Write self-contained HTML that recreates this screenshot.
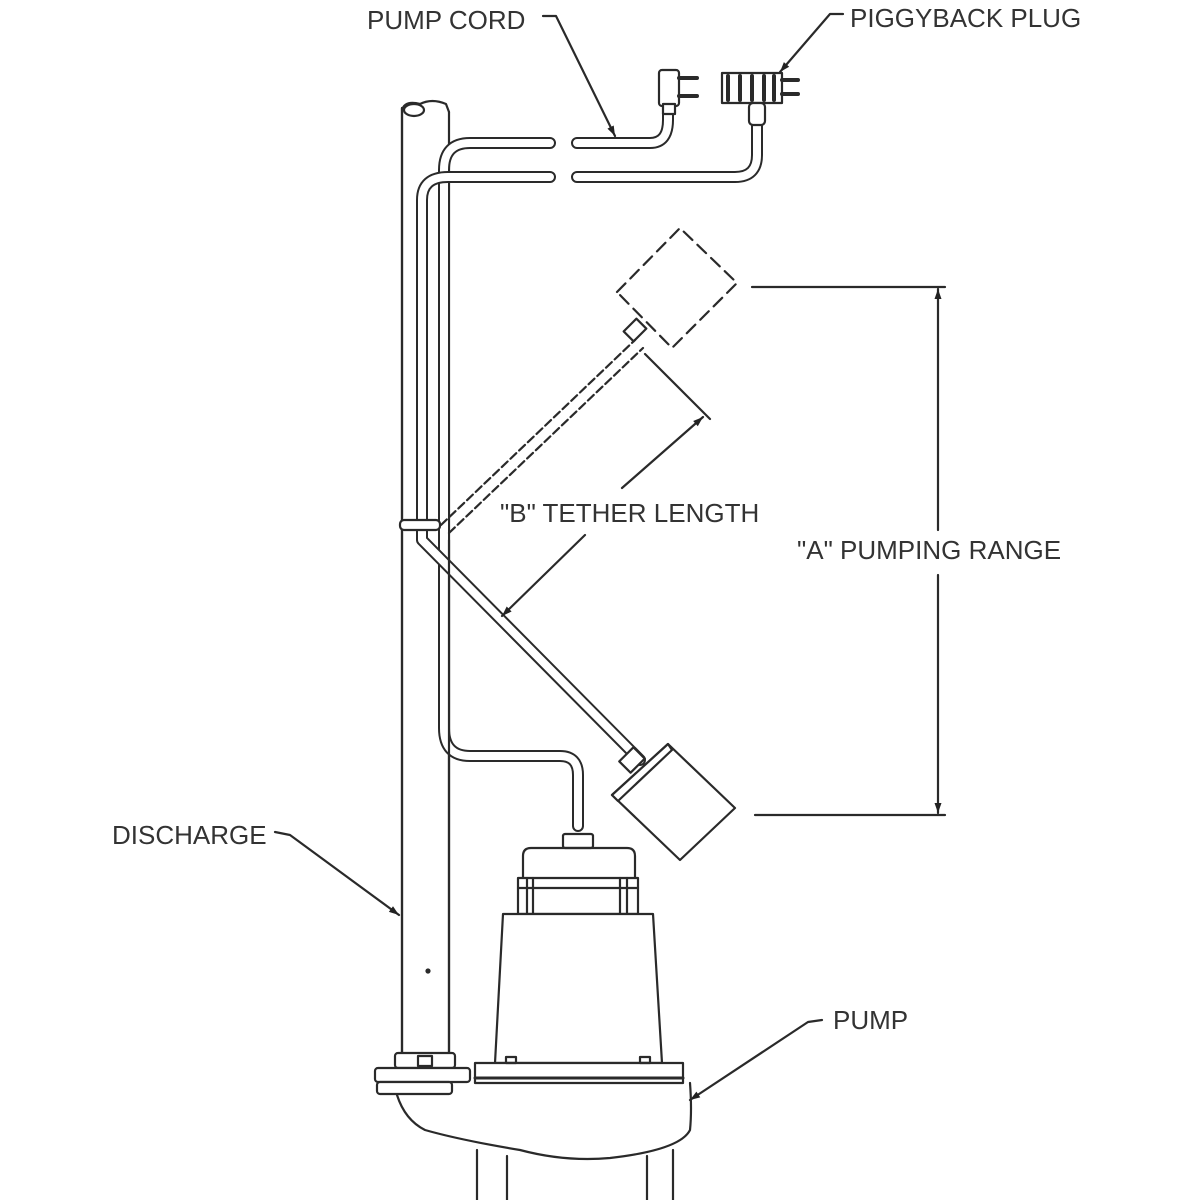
<!DOCTYPE html>
<html><head><meta charset="utf-8"><style>
html,body{margin:0;padding:0;background:#fff;}
svg{display:block}
text{font-family:"Liberation Sans",sans-serif;font-size:26px;fill:#333;letter-spacing:0px}
</style></head><body>
<svg width="1200" height="1200" viewBox="0 0 1200 1200" xmlns="http://www.w3.org/2000/svg">
<defs>
<marker id="ahl" viewBox="0 0 10 10" refX="10" refY="5" markerWidth="24" markerHeight="10" orient="auto-start-reverse" markerUnits="userSpaceOnUse"><path d="M0,1.5 L10,5 L0,8.5 z" fill="#222"/></marker>
</defs>
<g fill="none" stroke="#2a2a2a" stroke-width="2.2" stroke-linejoin="round" stroke-linecap="round">
<!-- discharge pipe -->
<line x1="402" y1="108" x2="402" y2="1055"/>
<line x1="449" y1="112" x2="449" y2="1055"/>
<path d="M402,110 Q405,100 420,104 Q432,98 446,104 L449,112"/>
<ellipse cx="414" cy="110" rx="10" ry="6"/>
<circle cx="428" cy="971" r="1.5" fill="#333"/>

<!-- pump cord -->
<path d="M550,143 L470,143 Q444,143 444,170 L444,728 Q444,756 470,756 L560,756 Q578,756 578,775 L578,826" stroke-width="12"/>
<path d="M550,143 L470,143 Q444,143 444,170 L444,728 Q444,756 470,756 L560,756 Q578,756 578,775 L578,826" stroke="#fff" stroke-width="8"/>
<path d="M577,143 L650,143 Q668,143 668,120 L668,110" stroke-width="12"/>
<path d="M577,143 L650,143 Q668,143 668,120 L668,110" stroke="#fff" stroke-width="8"/>

<!-- float cord -->
<path d="M550,177 L448,177 Q422,177 422,200 L422,540 L640,760" stroke-width="12"/>
<path d="M550,177 L448,177 Q422,177 422,200 L422,540 L640,760" stroke="#fff" stroke-width="8"/>
<path d="M577,177 L735,177 Q757,177 757,155 L757,125" stroke-width="12"/>
<path d="M577,177 L735,177 Q757,177 757,155 L757,125" stroke="#fff" stroke-width="8"/>
<line x1="449" y1="540" x2="449" y2="1055"/>
<line x1="402" y1="108" x2="402" y2="1055"/>
<rect x="400" y="520" width="40" height="10" rx="4" fill="#fff"/>

<!-- pump plug -->
<rect x="659" y="70" width="20" height="36" rx="3" fill="#fff"/>
<rect x="663" y="104" width="12" height="10" fill="#fff"/>
<path d="M679,78 L697,78 M679,96 L697,96" stroke-width="4"/>
<!-- piggyback plug -->
<rect x="722" y="73" width="60" height="30" fill="#fff"/>
<path d="M728,76 V100 M740,76 V100 M752,76 V100 M764,76 V100 M774,76 V100" stroke-width="4"/>
<path d="M782,80 L798,80 M782,94 L798,94" stroke-width="4"/>
<rect x="749" y="103" width="16" height="22" rx="4" fill="#fff"/>

<!-- dashed upper float + tether -->
<path d="M617,292 L680,228 L737,283 L672,348 Z" stroke-dasharray="12,7"/>
<path d="M441,525 L635,340 M449,533 L643,348" stroke-dasharray="8,4"/>
<rect x="626" y="323" width="18" height="14" transform="rotate(-45 635 330)"/>

<!-- lower float -->
<path d="M612,795 L668,744 L735,808 L680,860 Z" fill="#fff"/>
<path d="M612,795 L668,744 L672,750 L618,801 Z" fill="#fff"/>
<rect x="622" y="752" width="20" height="16" transform="rotate(-45 632 760)" fill="#fff"/>

<!-- dimension B -->
<line x1="645" y1="354" x2="710" y2="419"/>
<line x1="622" y1="488" x2="703" y2="417" marker-end="url(#ahl)"/>
<line x1="585" y1="535" x2="502" y2="616" marker-end="url(#ahl)"/>

<!-- dimension A -->
<line x1="752" y1="287" x2="945" y2="287"/>
<line x1="755" y1="815" x2="945" y2="815"/>
<line x1="938" y1="530" x2="938" y2="289" marker-end="url(#ahl)"/>
<line x1="938" y1="575" x2="938" y2="813" marker-end="url(#ahl)"/>

<!-- leaders -->
<path d="M543,16 L556,16 L615,136" marker-end="url(#ahl)"/>
<path d="M843,14 L830,14 L780,72" marker-end="url(#ahl)"/>
<path d="M275,832 L290,835 L399,915" marker-end="url(#ahl)"/>
<path d="M822,1020 L808,1022 L690,1100" marker-end="url(#ahl)"/>

<!-- pump -->
<rect x="563" y="834" width="30" height="14" rx="2" fill="#fff"/>
<path d="M523,878 L523,856 Q523,848 531,848 L627,848 Q635,848 635,856 L635,878"/>
<rect x="518" y="878" width="120" height="36" fill="#fff"/>
<line x1="518" y1="888" x2="638" y2="888"/>
<path d="M527,878 V914 M533,878 V914 M620,878 V914 M627,878 V914"/>
<path d="M503,914 L653,914 L662,1063 L495,1063 Z" fill="#fff"/>
<rect x="475" y="1063" width="208" height="20" fill="#fff"/>
<line x1="475" y1="1078" x2="683" y2="1078" stroke-width="3"/>
<rect x="506" y="1057" width="10" height="6"/><rect x="640" y="1057" width="10" height="6"/>
<rect x="395" y="1053" width="60" height="15" rx="3" fill="#fff"/>
<rect x="418" y="1056" width="14" height="10"/>
<rect x="375" y="1068" width="95" height="14" rx="3" fill="#fff"/>
<rect x="377" y="1082" width="75" height="12" rx="3" fill="#fff"/>
<path d="M397,1095 Q405,1120 425,1130 Q460,1140 520,1150 Q565,1162 610,1158 Q680,1150 690,1130 Q692,1110 690,1083"/>
<path d="M477,1150 V1200 M507,1156 V1200 M647,1156 V1200 M673,1150 V1200"/>
</g>

<text x="367" y="29">PUMP CORD</text>
<text x="850" y="27">PIGGYBACK PLUG</text>
<text x="500" y="522">"B" TETHER LENGTH</text>
<text x="797" y="559">"A" PUMPING RANGE</text>
<text x="112" y="844">DISCHARGE</text>
<text x="833" y="1029">PUMP</text>
</svg>
</body></html>
